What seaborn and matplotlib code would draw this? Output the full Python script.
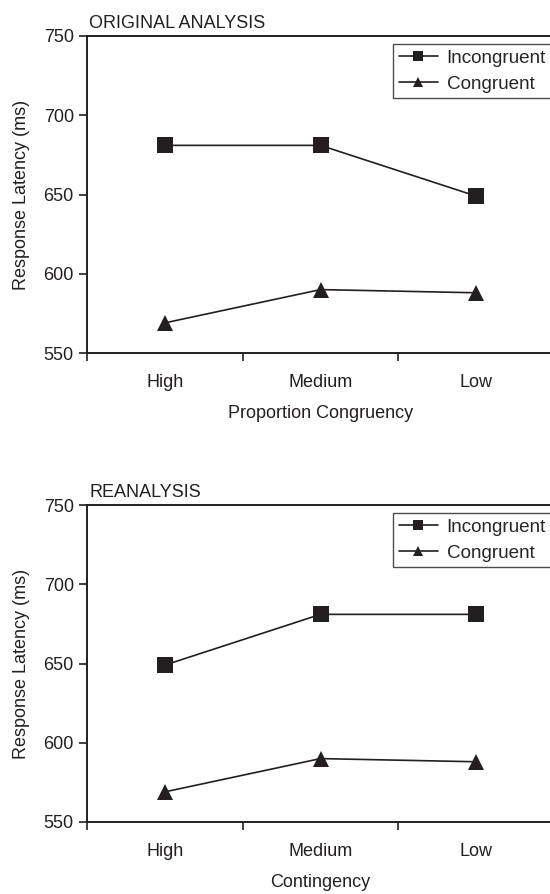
import pandas as pd
import matplotlib.pyplot as plt
import seaborn as sns

# Data
levels = ["High", "Medium", "Low"]
orig_incongruent = [681, 681, 649]
orig_congruent = [569, 590, 588]
re_incongruent = [649, 681, 681]
re_congruent = [569, 590, 588]

panels = [
    ("ORIGINAL ANALYSIS", "Proportion Congruency", orig_incongruent, orig_congruent),
    ("REANALYSIS", "Contingency", re_incongruent, re_congruent),
]

sns.set_style("ticks")
plt.rcParams['font.family'] = ['Liberation Sans', 'DejaVu Sans']
fs = 13

fig = plt.figure(figsize=(5.5, 8.94), dpi=100)

# axes placement in pixels (left, top, right, bottom)
boxes = [(87, 36, 554, 353), (87, 505, 554, 822)]
W, H = 550, 894
ink = "#231f20"

for (title, xlabel, incong, cong), (l, t, r, b) in zip(panels, boxes):
    ax = fig.add_axes([l / W, 1 - b / H, (r - l) / W, (b - t) / H])
    df = pd.DataFrame({
        "Level": levels * 2,
        "Latency": incong + cong,
        "Condition": ["Incongruent"] * 3 + ["Congruent"] * 3,
    })
    sns.lineplot(data=df, x="Level", y="Latency", hue="Condition", style="Condition",
                 markers={"Incongruent": "s", "Congruent": "^"}, dashes=False,
                 palette={"Incongruent": ink, "Congruent": ink},
                 markersize=12, linewidth=1.2, markeredgewidth=0, ax=ax, legend=True)
    ax.set_xlim(-0.5, 2.5)
    ax.set_ylim(550, 750)
    ax.set_yticks([550, 600, 650, 700, 750])
    ax.set_xticks([0, 1, 2])
    ax.set_xticklabels(levels)
    ax.set_xticks([-0.5, 0.5, 1.5, 2.5], minor=True)
    ax.tick_params(axis="x", which="major", length=0, pad=15, labelsize=fs, colors=ink)
    ax.tick_params(axis="x", which="minor", length=6, width=1.2, direction="out", color=ink)
    ax.tick_params(axis="y", length=6, width=1.2, direction="out", labelsize=fs, colors=ink)
    for side in ["left", "bottom", "top"]:
        ax.spines[side].set_linewidth(1.4)
        ax.spines[side].set_color(ink)
    ax.spines["right"].set_visible(False)
    ax.set_xlabel(xlabel, labelpad=10, color=ink, fontsize=fs)
    ax.set_ylabel("Response Latency (ms)", labelpad=10, color=ink, fontsize=fs)
    ax.text(0.005, 1.012, title, transform=ax.transAxes, ha="left", va="bottom",
            fontsize=fs, color=ink)
    handles, labels = ax.get_legend_handles_labels()
    leg = ax.legend(handles, labels, loc="upper left", bbox_to_anchor=(0.655, 0.975),
                    borderaxespad=0, frameon=True, fancybox=False, edgecolor=ink,
                    handlelength=2.1, handletextpad=0.45, labelspacing=0.45,
                    borderpad=0.3, fontsize=13.6, markerscale=0.65)
    leg.get_frame().set_linewidth(1.0)

fig.savefig("out.png", dpi=100)
